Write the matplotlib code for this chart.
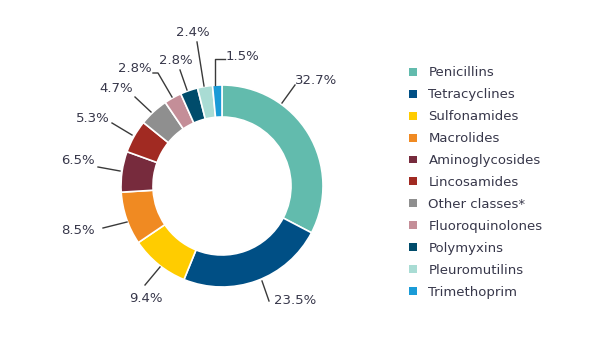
import numpy as np
import matplotlib.pyplot as plt
from matplotlib.patches import Patch

classes = ['Penicillins', 'Tetracyclines', 'Sulfonamides', 'Macrolides',
           'Aminoglycosides', 'Lincosamides', 'Other classes*', 'Fluoroquinolones',
           'Polymyxins', 'Pleuromutilins', 'Trimethoprim']
shares = [32.7, 23.5, 9.4, 8.5, 6.5, 5.3, 4.7, 2.8, 2.8, 2.4, 1.5]
colors = ['#62bbad', '#004f85', '#ffcc00', '#f08a22', '#772b3d', '#a12a22',
          '#8f8f8f', '#c48e98', '#004c6b', '#a9dcd4', '#1a9bd7']

W, H = 591, 337
fig = plt.figure(figsize=(W / 100, H / 100), dpi=100)
ax = fig.add_axes([0, 0, 1, 1])

cx, cy, R = 222, H - 186, 101
txt = '#37374a'

ax.pie(shares, colors=colors, startangle=90, counterclock=False,
       center=(cx, cy), radius=R, frame=True,
       wedgeprops=dict(width=32, edgecolor='white', linewidth=1.2))
ax.set_xlim(0, W)
ax.set_ylim(0, H)
ax.set_aspect('equal')
ax.axis('off')

# leader lines and label positions, in pixels from the top-left corner
label_pos = [(316, 80), (295, 300), (146, 299), (78, 231), (78, 161), (93, 118),
             (116, 89), (135, 69), (176, 60), (193, 33), (242, 57)]
leader = [
    [(282, 103), (295, 85)],
    [(262, 281), (269, 301)],
    [(160, 267), (145, 285)],
    [(127, 222), (103, 228)],
    [(120, 171), (98, 167)],
    [(132, 135), (112, 123)],
    [(151, 112), (135, 97)],
    [(172, 97), (158, 73), (153, 73)],
    [(187, 90), (180, 70)],
    [(204, 86), (197, 42)],
    [(215, 85), (215, 59), (225, 59)],
]

for v, (tx, ty), pts in zip(shares, label_pos, leader):
    xs = [p[0] for p in pts]
    ys = [H - p[1] for p in pts]
    ax.plot(xs, ys, color='#3a3a3a', lw=1)
    ax.text(tx, H - ty, f'{v}%', ha='center', va='center', fontsize=9.5, color=txt)

handles = [Patch(facecolor=c, edgecolor='none') for c in colors]
leg = ax.legend(handles, classes, loc='upper left', bbox_to_anchor=(404 / W, 1 - 61 / H),
                frameon=False, fontsize=9.5, handlelength=0.55, handleheight=0.55,
                handletextpad=0.9, labelspacing=0.68, borderaxespad=0)
for t in leg.get_texts():
    t.set_color(txt)

fig.savefig('out.png', dpi=100)
